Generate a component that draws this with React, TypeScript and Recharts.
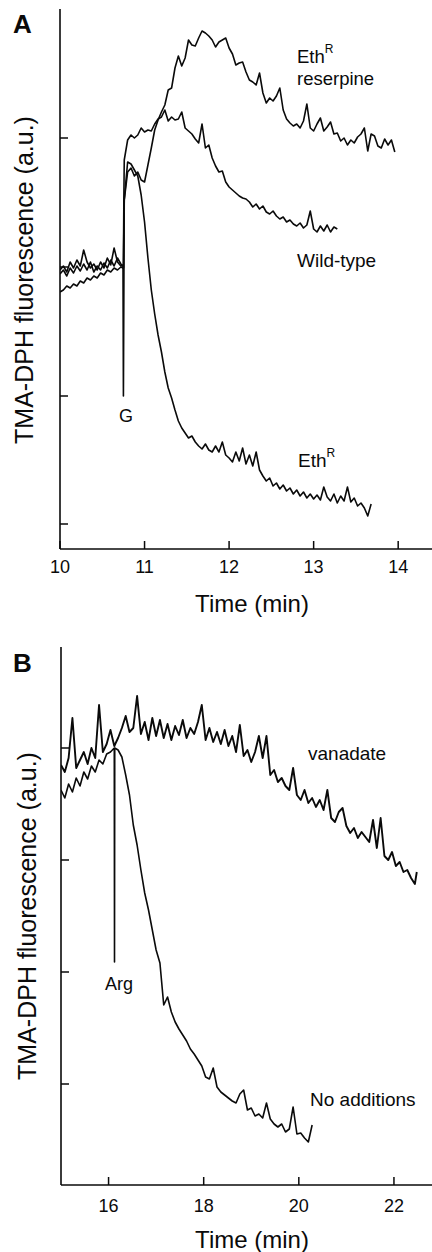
import React from 'react';
import { LineChart, Line, XAxis, YAxis } from 'recharts';

// ---------- Panel A ----------
const timeA = [10, 10.04, 10.08, 10.12, 10.16, 10.2, 10.24, 10.28, 10.32, 10.36, 10.4, 10.44, 10.48, 10.52, 10.56, 10.6, 10.64, 10.68, 10.72, 10.745, 10.75, 10.755, 10.76, 10.8, 10.84, 10.88, 10.92, 10.96, 11, 11.04, 11.08, 11.12, 11.16, 11.2, 11.24, 11.28, 11.32, 11.36, 11.4, 11.44, 11.48, 11.52, 11.56, 11.6, 11.64, 11.68, 11.72, 11.76, 11.8, 11.84, 11.88, 11.92, 11.96, 12, 12.04, 12.08, 12.12, 12.16, 12.2, 12.24, 12.28, 12.32, 12.36, 12.4, 12.44, 12.48, 12.52, 12.56, 12.6, 12.64, 12.68, 12.72, 12.76, 12.8, 12.84, 12.88, 12.92, 12.96, 13, 13.04, 13.08, 13.12, 13.16, 13.2, 13.24, 13.28, 13.32, 13.36, 13.4, 13.44, 13.48, 13.52, 13.56, 13.6, 13.64, 13.68, 13.72, 13.76, 13.8, 13.84, 13.88, 13.92, 13.96];

const ethRReserpine = [279, 283, 277, 287, 281, 289, 283, 299, 287, 281, 285, 279, 287, 281, 291, 284, 301, 287, 283,
  284, 281, 319,
  349,
  377, 381, 373, 377, 369, 367, 384,
  401, 419, 429, 437, 444, 459, 461, 481, 493, 483, 491, 509, 504, 503, 511, 518, 516, 513, 509, 502, 507, 509, 511, 501, 495, 484, 486, 487, 477, 469, 467, 464, 476,
  456, 446, 451, 448, 453, 461, 439, 430, 426, 423, 425, 421, 428, 445, 421, 418, 425, 431, 418, 422, 427, 415, 416, 408, 411, 404, 409, 406, 412, 415, 421, 398, 415, 413, 403, 401, 410, 404, 409, 397];

const wildType = [257, 259, 263, 261, 265, 263, 268, 266, 271, 269, 273, 271, 276, 274, 279, 277, 281, 279, 282,
  281, 281, 349,
  389,
  409, 414, 411, 414, 421, 417, 419, 418, 425, 430,
  432, 439, 428, 432, 429, 430, 437, 421, 418, 415,
  410, 406, 425, 401, 404, 391, 383, 377, 378, 367,
  362, 359, 356, 353, 351, 350, 347, 342, 345, 340,
  343, 337, 335, 338, 333, 330, 332, 327, 329, 325,
  323, 326, 321, 324, 338, 320, 317, 323, 318, 324,
  317, 322, 320,
  null, null, null, null, null, null, null, null, null, null, null, null, null, null, null, null, null];

const ethR = [275, 279, 273, 281, 276, 283, 278, 285, 279, 287, 277, 283, 279, 286, 281, 289, 283, 291, 285,
  283, 153, 249,
  349,
  387, 385, 379, 373, 354, 327, 291, 259, 235, 214,
  197, 177, 161, 151, 139, 128, 121, 116, 111, 113,
  107, 103, 100, 105, 99, 97, 103, 97, 107, 94,
  91, 87, 97, 88, 101, 85, 94, 83, 97, 79,
  73, 68, 71, 63, 66, 60, 64, 58, 61, 55,
  59, 53, 57, 51, 55, 50, 54, 49, 62, 52,
  48, 55, 46, 53, 48, 62, 47, 51, 43, 46,
  41, 33, 45,
  null, null, null, null, null, null, null];

const xTicksA = [10, 11, 12, 13, 14];
const yTicksA = [25, 153, 282, 411];

// ---------- Panel B ----------
const timeB = [15, 15.08, 15.16, 15.24, 15.32, 15.4, 15.48, 15.56, 15.64, 15.72, 15.8, 15.88, 15.96, 16.04, 16.12, 16.125, 16.13, 16.2, 16.28, 16.36, 16.44, 16.52, 16.6, 16.68, 16.76, 16.84, 16.92, 17, 17.08, 17.16, 17.24, 17.32, 17.4, 17.48, 17.56, 17.64, 17.72, 17.8, 17.88, 17.96, 18.04, 18.12, 18.2, 18.28, 18.36, 18.44, 18.52, 18.6, 18.68, 18.76, 18.84, 18.92, 19, 19.08, 19.16, 19.24, 19.32, 19.4, 19.48, 19.56, 19.64, 19.72, 19.8, 19.88, 19.96, 20.04, 20.12, 20.2, 20.28, 20.36, 20.44, 20.52, 20.6, 20.68, 20.76, 20.84, 20.92, 21, 21.08, 21.16, 21.24, 21.32, 21.4, 21.48, 21.56, 21.64, 21.72, 21.8, 21.88, 21.96, 22.04, 22.12, 22.2, 22.28, 22.36, 22.44, 22.48];

const vanadate = [420, 413, 427, 467, 417, 425, 433, 421, 437, 427, 480, 433, 441, 455, 439,
  439, 440,
  447, 457, 469, 453, 457, 489, 451, 463, 445, 467,
  449, 465, 447, 461, 445, 459, 450, 465, 447, 457,
  451, 463, 480, 445, 457, 443, 453, 441, 455, 439,
  449, 433, 460, 429, 435, 423, 433, 449, 427, 449,
  410, 415, 403, 407, 399, 395, 417, 390, 385, 395,
  382, 387, 378, 385, 375, 395, 367, 363, 373, 377,
  359, 352, 357, 347, 353, 348, 343, 365, 337, 367,
  329, 325, 333, 319, 323, 313, 315, 307, 301,
  313];

const noAdditions = [395, 387, 401, 393, 407, 399, 413, 406, 419, 413, 425, 421, 431, 433, 437,
  223, 437,
  435, 428, 410, 390, 360, 340, 315, 292, 275, 255,
  235, 222, 180, 188, 173, 163, 156, 150, 144, 136,
  131, 125, 119, 108, 106, 117, 98, 93, 90, 87,
  84, 82, 91, 95, 75, 77, 69, 71, 67, 82,
  66, 61, 58, 61, 53, 56, 78, 51, 52, 47,
  43, 60,
  null, null, null, null, null, null, null, null, null, null, null, null, null, null,
  null, null, null, null, null, null, null, null, null, null, null, null, null, null];

const xTicksB = [16, 18, 20, 22];
const yTicksB = [101, 213, 325, 437];

const rowsA = timeA.map((t, i) => ({ t, r: ethRReserpine[i], w: wildType[i], e: ethR[i] }));
const rowsB = timeB.map((t, i) => ({ t, v: vanadate[i], n: noAdditions[i] }));

const FONT = '"Liberation Sans", Arial, Helvetica, sans-serif';
const INK = '#0a0a0a';
const AX = { stroke: INK, strokeWidth: 1.6 };

const makeBottomTick = (dy: number) => (props: any) => {
  const { x, y, payload } = props;
  return (
    <g>
      <line x1={x} y1={y} x2={x} y2={y - 8} stroke={INK} strokeWidth={1.5} />
      <text x={x} y={y + dy} textAnchor="middle" fontSize={18} fontFamily={FONT} fill={INK}>
        {payload.value}
      </text>
    </g>
  );
};

const TopTick = (props: any) => {
  const { x, y } = props;
  return <line x1={x} y1={y} x2={x} y2={y + 8} stroke={INK} strokeWidth={1.5} />;
};

const LeftTick = (props: any) => {
  const { x, y } = props;
  return <line x1={x} y1={y} x2={x + 8} y2={y} stroke={INK} strokeWidth={1.5} />;
};

const lineProps = {
  type: 'linear' as const,
  stroke: INK,
  strokeWidth: 1.6,
  strokeLinejoin: 'round' as const,
  dot: false,
  activeDot: false,
  isAnimationActive: false,
  connectNulls: false,
  xAxisId: 'b',
};

function PanelA() {
  return (
    <LineChart width={432} height={620} data={rowsA} margin={{ top: 9, right: 0, bottom: 41, left: 0 }}>
      <XAxis xAxisId="b" type="number" dataKey="t" domain={[10, 14.4]} ticks={xTicksA} interval={0}
        allowDataOverflow tickSize={0} tickMargin={0} height={30} axisLine={AX} tickLine={false}
        tick={makeBottomTick(24)} />
      <XAxis xAxisId="t" orientation="top" type="number" dataKey="t" domain={[10, 14.4]} height={0}
        allowDataOverflow axisLine={AX} tickLine={false} tick={false} />
      <YAxis type="number" domain={[0, 540]} ticks={yTicksA} interval={0} allowDataOverflow width={60}
        tickSize={0} tickMargin={0} axisLine={AX} tickLine={false} tick={LeftTick} />
      <Line {...lineProps} dataKey="r" />
      <Line {...lineProps} dataKey="w" />
      <Line {...lineProps} dataKey="e" />
    </LineChart>
  );
}

function PanelB() {
  return (
    <LineChart width={432} height={627} data={rowsB} margin={{ top: 22, right: 0, bottom: 37, left: 0 }}>
      <XAxis xAxisId="b" type="number" dataKey="t" domain={[15, 22.8]} ticks={xTicksB} interval={0}
        allowDataOverflow tickSize={0} tickMargin={0} height={30} axisLine={AX} tickLine={false}
        tick={makeBottomTick(27)} />
      <XAxis xAxisId="t" orientation="top" type="number" dataKey="t" domain={[15, 22.8]} ticks={xTicksB}
        interval={0} height={0} tickSize={0} tickMargin={0} allowDataOverflow axisLine={AX} tickLine={false}
        tick={TopTick} />
      <YAxis type="number" domain={[0, 538]} ticks={yTicksB} interval={0} allowDataOverflow width={61}
        tickSize={0} tickMargin={0} axisLine={AX} tickLine={false} tick={LeftTick} />
      <Line {...lineProps} dataKey="v" strokeWidth={1.9} />
      <Line {...lineProps} dataKey="n" />
    </LineChart>
  );
}

const T = (p: any) => <text fontFamily={FONT} fill={INK} {...p} />;

export default function App() {
  return (
    <div style={{ position: 'absolute', left: 0, top: 0, width: 432, height: 1252, background: '#fff', overflow: 'hidden' }}>
      <div style={{ position: 'absolute', left: 0, top: 0 }}>
        <PanelA />
      </div>
      <div style={{ position: 'absolute', left: 0, top: 625 }}>
        <PanelB />
      </div>
      <svg width={432} height={1252} style={{ position: 'absolute', left: 0, top: 0, pointerEvents: 'none' }}>
        {/* Panel A texts */}
        <T x={13} y={33} fontSize={26} fontWeight="bold">A</T>
        <T transform="translate(33,280) rotate(-90)" textAnchor="middle" fontSize={25}>TMA-DPH fluorescence (a.u.)</T>
        <T x={252} y={612} textAnchor="middle" fontSize={24}>Time (min)</T>
        <T x={297} y={63} fontSize={18.5}>Eth<tspan dy={-10} fontSize={12}>R</tspan></T>
        <T x={297} y={85} fontSize={18.5}>reserpine</T>
        <T x={297} y={267} fontSize={19}>Wild-type</T>
        <T x={119} y={422} fontSize={18}>G</T>
        <T x={298} y={467} fontSize={19}>Eth<tspan dy={-10} fontSize={12}>R</tspan></T>
        {/* Panel B texts */}
        <T x={13} y={672} fontSize={26} fontWeight="bold">B</T>
        <T transform="translate(36,916) rotate(-90)" textAnchor="middle" fontSize={25}>TMA-DPH fluorescence (a.u.)</T>
        <T x={252} y={1248} textAnchor="middle" fontSize={24}>Time (min)</T>
        <T x={308} y={760} fontSize={19}>vanadate</T>
        <T x={105} y={990} fontSize={18}>Arg</T>
        <T x={310} y={1106} fontSize={19}>No additions</T>
      </svg>
    </div>
  );
}
